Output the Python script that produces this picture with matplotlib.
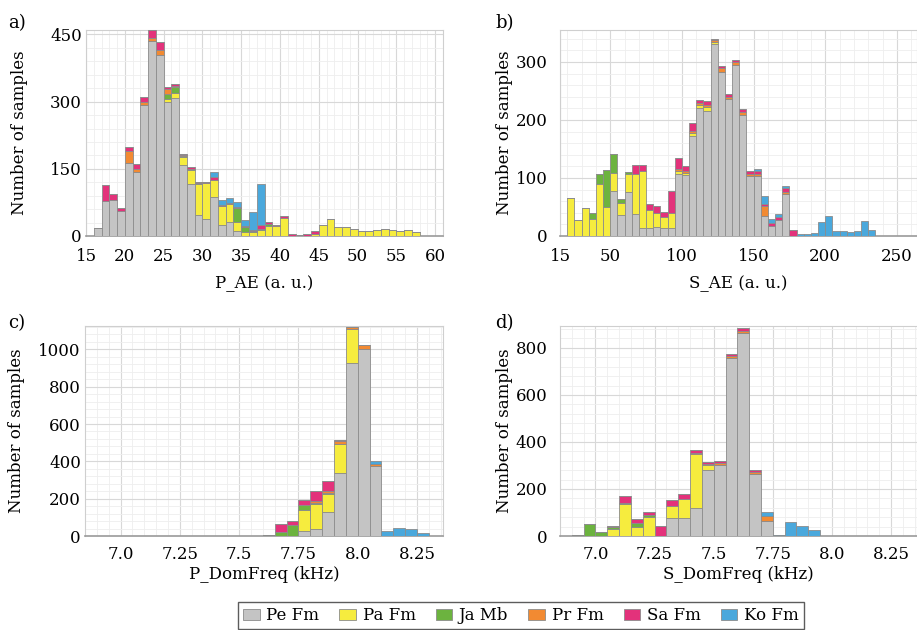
import matplotlib
matplotlib.use('Agg')
import matplotlib.pyplot as plt
from matplotlib.ticker import AutoMinorLocator, MultipleLocator
from matplotlib.patches import Patch

plt.rcParams['font.family'] = 'DejaVu Serif'
plt.rcParams['font.size'] = 12

names = ['Pe Fm', 'Pa Fm', 'Ja Mb', 'Pr Fm', 'Sa Fm', 'Ko Fm']
colors = ['#c4c4c4', '#f6ec3e', '#6cb33f', '#f28a32', '#e3327b', '#4aa8dc']

# ---- a) P_AE, bins of 1 a.u. starting at 16
a_left = [16, 17, 18, 19, 20, 21, 22, 23, 24, 25, 26, 27, 28, 29, 30, 31, 32, 33, 34, 35, 36,
          37, 38, 39, 40, 41, 42, 43, 44, 45, 46, 47, 48, 49, 50, 51, 52, 53, 54, 55, 56, 57]
a_pe = [18, 79, 81, 55, 162, 142, 293, 435, 405, 300, 309, 159, 117, 47, 39, 86, 24, 32, 12, 0, 0,
        0, 0, 0, 0, 0, 0, 0, 0, 0, 0, 0, 0, 0, 0, 0, 0, 0, 0, 0, 0, 0]
a_pa = [0, 0, 0, 0, 0, 0, 0, 0, 0, 7, 11, 17, 31, 70, 79, 38, 42, 39, 20, 10, 8,
        13, 22, 22, 41, 1, 0, 1, 4, 24, 39, 21, 19, 15, 12, 11, 13, 16, 13, 11, 13, 9]
a_ja = [0, 0, 0, 0, 0, 0, 0, 0, 0, 10, 13, 3, 2, 1, 0, 0, 2, 0, 31, 11, 3,
        2, 4, 0, 0, 0, 0, 0, 0, 0, 0, 0, 0, 0, 0, 0, 0, 0, 0, 0, 0, 0]
a_pr = [0, 0, 0, 0, 28, 8, 6, 6, 11, 12, 3, 2, 0, 0, 0, 0, 0, 0, 0, 0, 0,
        0, 0, 0, 0, 0, 0, 0, 0, 0, 0, 0, 0, 0, 0, 0, 0, 0, 0, 0, 0, 0]
a_sa = [0, 35, 12, 8, 9, 11, 12, 18, 17, 4, 3, 2, 3, 2, 3, 7, 1, 3, 2, 2, 3,
        9, 5, 3, 4, 4, 3, 4, 7, 0, 0, 0, 0, 0, 0, 0, 0, 0, 0, 0, 0, 0]
a_ko = [0, 0, 0, 0, 0, 0, 0, 0, 0, 0, 0, 0, 0, 0, 0, 12, 12, 11, 11, 12, 39,
        91, 0, 0, 0, 0, 0, 0, 0, 0, 0, 0, 0, 0, 0, 0, 0, 0, 0, 0, 0, 0]

# ---- b) S_AE, bins of 5 a.u. starting at 20
b_left = [20, 25, 30, 35, 40, 45, 50, 55, 60, 65, 70, 75, 80, 85, 90, 95, 100, 105, 110, 115, 120,
          125, 130, 135, 140, 145, 150, 155, 160, 165, 170, 175, 180, 185, 190, 195, 200, 205, 210,
          215, 220, 225, 230]
b_pe = [0, 0, 0, 0, 0, 0, 78, 36, 75, 38, 13, 14, 15, 13, 14, 106, 105, 172, 220, 216, 330,
        283, 236, 295, 208, 103, 103, 34, 17, 28, 72, 0, 0, 0, 0, 0, 0, 0, 0,
        0, 0, 0, 0]
b_pa = [66, 27, 49, 29, 89, 50, 30, 21, 31, 69, 99, 31, 24, 19, 25, 6, 4, 6, 6, 6, 4,
        0, 0, 0, 0, 0, 0, 0, 0, 0, 0, 0, 0, 0, 0, 0, 0, 0, 0,
        0, 0, 0, 0]
b_ja = [0, 0, 0, 10, 17, 63, 34, 6, 5, 0, 0, 0, 0, 0, 0, 0, 0, 0, 0, 0, 0,
        0, 0, 0, 0, 0, 0, 0, 0, 0, 0, 0, 0, 0, 0, 0, 0, 0, 0,
        0, 0, 0, 0]
b_pr = [0, 0, 0, 0, 0, 0, 0, 0, 0, 0, 0, 0, 0, 0, 0, 3, 3, 3, 3, 4, 3,
        6, 3, 4, 5, 4, 4, 18, 0, 0, 3, 0, 0, 0, 0, 0, 0, 0, 0,
        0, 0, 0, 0]
b_sa = [0, 0, 0, 0, 0, 0, 0, 0, 0, 15, 10, 11, 13, 9, 39, 19, 9, 13, 5, 6, 3,
        4, 5, 4, 5, 5, 5, 4, 6, 5, 7, 11, 0, 0, 0, 0, 0, 0, 0,
        0, 0, 0, 0]
b_ko = [0, 0, 0, 0, 0, 0, 0, 0, 0, 0, 0, 0, 0, 0, 0, 0, 0, 0, 0, 0, 0,
        0, 0, 0, 0, 0, 4, 13, 6, 5, 4, 0, 4, 4, 6, 24, 34, 8, 8,
        7, 9, 26, 11]

# ---- c) P_DomFreq, bins of 0.05 kHz
c_left = [7.50, 7.55, 7.60, 7.65, 7.70, 7.75, 7.80, 7.85, 7.90, 7.95, 8.00, 8.05, 8.10, 8.15, 8.20, 8.25]
c_pe = [1, 2, 1, 0, 0, 27, 36, 126, 335, 925, 1002, 375, 0, 0, 0, 0]
c_pa = [0, 0, 0, 0, 0, 113, 137, 99, 160, 185, 0, 0, 0, 0, 0, 0]
c_ja = [0, 0, 4, 23, 59, 27, 6, 4, 0, 0, 0, 0, 0, 0, 0, 0]
c_pr = [0, 0, 0, 0, 0, 0, 6, 10, 15, 10, 20, 12, 0, 0, 0, 0]
c_sa = [0, 0, 0, 40, 22, 26, 58, 58, 2, 0, 0, 0, 0, 0, 0, 0]
c_ko = [0, 0, 0, 0, 0, 0, 0, 0, 0, 0, 0, 15, 27, 41, 36, 14]

# ---- d) S_DomFreq, bins of 0.05 kHz
d_left = [6.90, 6.95, 7.00, 7.05, 7.10, 7.15, 7.20, 7.25, 7.30, 7.35, 7.40, 7.45, 7.50, 7.55,
          7.60, 7.65, 7.70, 7.75, 7.80, 7.85, 7.90]
d_pe = [0, 0, 0, 0, 0, 0, 0, 0, 78, 78, 118, 282, 303, 755, 862, 262, 62, 0, 0, 0, 0]
d_pa = [0, 0, 0, 28, 135, 40, 80, 0, 50, 78, 232, 20, 0, 0, 0, 0, 0, 0, 0, 0, 0]
d_ja = [4, 52, 18, 12, 6, 14, 8, 0, 0, 0, 0, 0, 0, 0, 0, 0, 0, 0, 0, 0, 0]
d_pr = [0, 0, 0, 0, 0, 0, 0, 0, 0, 0, 3, 4, 8, 10, 8, 12, 22, 0, 0, 0, 0]
d_sa = [0, 0, 0, 2, 30, 18, 15, 44, 25, 22, 12, 10, 10, 10, 15, 5, 0, 0, 0, 0, 0]
d_ko = [0, 0, 0, 0, 0, 0, 0, 0, 0, 0, 0, 0, 0, 0, 0, 0, 20, 5, 58, 42, 25]


def stacked(ax, left, width, series):
	bottom = [0] * len(left)
	for vals, col in zip(series, colors):
		ax.bar(left, vals, width=width, bottom=bottom, align='edge', color=col,
		       edgecolor='#8c8c8c', linewidth=0.6, zorder=3)
		bottom = [b + v for b, v in zip(bottom, vals)]


def style(ax, xpad, ypad, ylab_x):
	ax.set_axisbelow(True)
	ax.xaxis.set_minor_locator(AutoMinorLocator(5))
	ax.yaxis.set_minor_locator(AutoMinorLocator(5))
	ax.grid(which='major', color='#d8d8d8', linewidth=0.8)
	ax.grid(which='minor', color='#eeeeee', linewidth=0.6)
	ax.tick_params(which='both', length=0, labelsize=12)
	ax.tick_params(axis='x', pad=xpad)
	ax.tick_params(axis='y', pad=ypad)
	for s in ax.spines.values():
		s.set_color('#cfcfcf')
		s.set_linewidth(0.8)
	ax.spines['bottom'].set_color('#9a9a9a')
	ax.spines['bottom'].set_linewidth(1.2)
	ax.set_ylabel('Number of samples', fontsize=12)
	ax.yaxis.set_label_coords(ylab_x, 0.5)


fig = plt.figure(figsize=(9.17, 6.3), dpi=100)

ax = fig.add_axes([0.0938, 0.6254, 0.3893, 0.327])
stacked(ax, a_left, 1, [a_pe, a_pa, a_ja, a_pr, a_sa, a_ko])
style(ax, 9, 3, -0.162)
ax.set_xlim(15, 61)
ax.set_ylim(0, 460)
ax.set_xticks([15, 20, 25, 30, 35, 40, 45, 50, 55, 60])
ax.set_yticks([0, 150, 300, 450])
ax.set_xlabel('P_AE (a. u.)', fontsize=12, labelpad=7)

ax = fig.add_axes([0.6107, 0.6254, 0.3893, 0.327])
stacked(ax, b_left, 5, [b_pe, b_pa, b_ja, b_pr, b_sa, b_ko])
style(ax, 9, 9, -0.132)
ax.set_xlim(15, 264)
ax.set_ylim(0, 355)
ax.set_xticks([15, 50, 100, 150, 200, 250])
ax.xaxis.set_minor_locator(MultipleLocator(10))
ax.set_yticks([0, 100, 200, 300])
ax.set_xlabel('S_AE (a. u.)', fontsize=12, labelpad=7)

ax = fig.add_axes([0.0927, 0.1492, 0.3904, 0.3333])
stacked(ax, c_left, 0.05, [c_pe, c_pa, c_ja, c_pr, c_sa, c_ko])
style(ax, 7, 3, -0.168)
ax.set_xlim(6.85, 8.36)
ax.set_ylim(0, 1125)
ax.set_xticks([7.0, 7.25, 7.5, 7.75, 8.0, 8.25])
ax.set_xticklabels(['7.0', '7.25', '7.5', '7.75', '8.0', '8.25'])
ax.set_yticks([0, 200, 400, 600, 800, 1000])
ax.set_xlabel('P_DomFreq (kHz)', fontsize=12, labelpad=2)

ax = fig.add_axes([0.6107, 0.1492, 0.3893, 0.3333])
stacked(ax, d_left, 0.05, [d_pe, d_pa, d_ja, d_pr, d_sa, d_ko])
style(ax, 7, 9, -0.132)
ax.set_xlim(6.85, 8.36)
ax.set_ylim(0, 893)
ax.set_xticks([7.0, 7.25, 7.5, 7.75, 8.0, 8.25])
ax.set_xticklabels(['7.0', '7.25', '7.5', '7.75', '8.0', '8.25'])
ax.set_yticks([0, 200, 400, 600, 800])
ax.set_xlabel('S_DomFreq (kHz)', fontsize=12, labelpad=2)

for txt, x, y in [('a)', 0.009, 0.955), ('b)', 0.54, 0.955), ('c)', 0.009, 0.48), ('d)', 0.54, 0.48)]:
	fig.text(x, y, txt, fontsize=13)

handles = [Patch(facecolor=c, edgecolor='#8c8c8c', linewidth=0.6) for c in colors]
fig.legend(handles, names, loc='lower center', bbox_to_anchor=(0.568, -0.012), ncol=6,
           frameon=True, fancybox=False, edgecolor='#333333', fontsize=12,
           handlelength=1.0, handleheight=0.7, handletextpad=0.4, columnspacing=1.2,
           borderpad=0.3)

fig.savefig('out.png', dpi=100)
